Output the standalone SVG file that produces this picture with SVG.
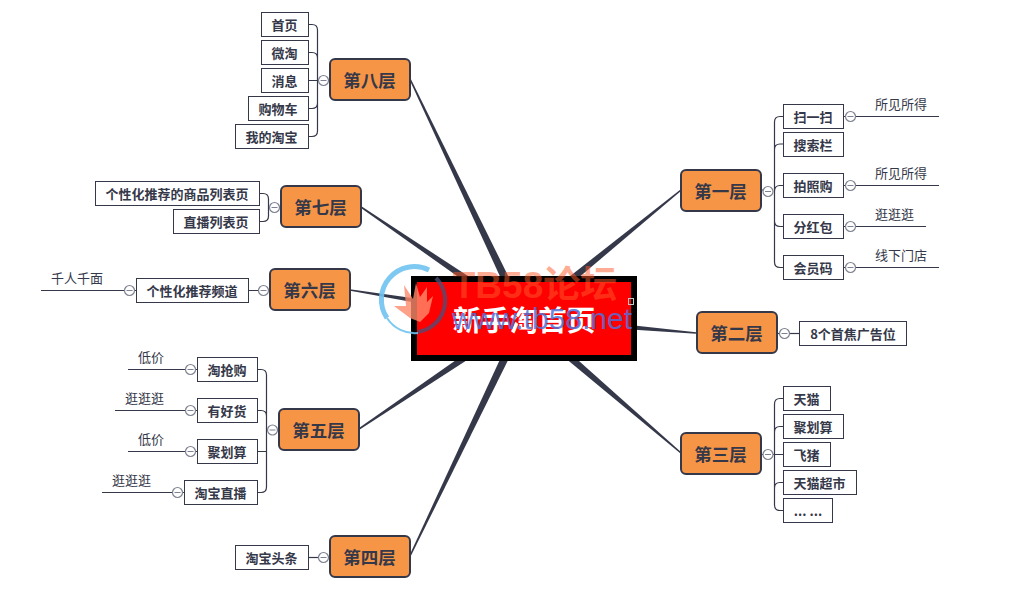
<svg xmlns="http://www.w3.org/2000/svg" xmlns:xlink="http://www.w3.org/1999/xlink" width="1015" height="602" viewBox="0 0 1015 602">
<style>
text{font-family:"Noto Sans CJK SC","Liberation Sans",sans-serif;text-anchor:middle;fill:#353849}
.l1 rect{fill:#F79546;stroke:#353849;stroke-width:2}
.l1 text{font-size:17.500px;font-weight:700}
.b rect{fill:#fff;stroke:#353849;stroke-width:1}
.b text{font-size:13px;font-weight:700}
.leaf{font-size:13px;font-weight:400;text-anchor:start}
.w{fill:none;stroke:#353849;stroke-width:1.2}
.t{fill:#353849}
.c circle{fill:#fff;stroke:#7e8290;stroke-width:1.2}
.c line{stroke:#7e8290;stroke-width:1}
</style>
<defs>
<g id="m" class="c"><circle r="5"/><line x1="-3" x2="3" y1="0" y2="0"/></g>
</defs>
<rect width="1015" height="602" fill="#fff"/>
<g id="connectors">
<g id="main-branches">
<polygon class="t" points="526.800,321.500 681.500,190.600 680.500,189.400 521.200,314.500"/>
<polygon class="t" points="523.600,322.500 695.900,333.800 696.100,332.200 524.400,313.500"/>
<polygon class="t" points="521.100,321.400 680.500,453.600 681.500,452.400 526.900,314.600"/>
<polygon class="t" points="528,319.900 410.700,556.300 409.300,555.700 520,316.100"/>
<polygon class="t" points="526.500,321.700 359.400,429.700 358.600,428.300 521.500,314.300"/>
<polygon class="t" points="524.700,322.400 350.100,290.800 349.900,289.200 523.300,313.600"/>
<polygon class="t" points="526.500,314.300 361.400,206.300 360.600,207.700 521.500,321.700"/>
<polygon class="t" points="528,316.100 410.700,78.700 409.300,79.300 520,319.900"/>
</g>
<path class="w" d="M761 190H768M774.500 191.500V122Q774.500 116.500 780 116.500H783M774.500 150V149.500Q774.500 144 780 144H783M774.500 191.500Q774.500 185.500 780 185.500H783M774.500 191.500V262Q774.500 267.500 780 267.500H783M774.500 221Q774.500 226.500 780 226.500H783"/>
<path class="w" d="M844 116.500H939M844 185.500H939M844 226.500H926M844 267.500H939"/>
<path class="w" d="M777 333.500H799"/>
<path class="w" d="M761 454.500H783M774.500 454.500V404Q774.500 398.500 780 398.500H783M774.500 432Q774.500 426.500 780 426.500H783M774.500 488Q774.500 482.500 780 482.500H783M774.500 454.500V505Q774.500 510.500 780 510.500H783"/>
<path class="w" d="M308.500 557.500H330"/>
<path class="w" d="M279 430H266.500M257.500 369.500H261Q266.500 369.500 266.500 375V487Q266.500 492.500 261 492.500H257.500M257.500 410.500H261Q266.500 410.500 266.500 416M257.500 451.500H266.500"/>
<path class="w" d="M197.500 369.500H128M197.500 410.500H115M197.500 451.500H128M184.500 492.500H102"/>
<path class="w" d="M270 290.500H248.500M136.500 290.500H41"/>
<path class="w" d="M281 207.500H268.500M259.500 193.500H263Q268.500 193.500 268.500 199V216Q268.500 221.500 263 221.500H259.500"/>
<path class="w" d="M330 80.500H308.500M308.500 24.500H312Q317.500 24.500 317.500 30V131Q317.500 136.500 312 136.500H308.500M308.500 52.500H312Q317.500 52.500 317.500 58M308.500 108.500H312Q317.500 108.500 317.500 103"/>
</g>
<g id="center">
<rect x="414" y="279" width="220" height="79" fill="#f00" stroke="#000" stroke-width="6"/>
<text x="524" y="331" font-size="28.500" font-weight="700" style="fill:#fff">新手淘首页</text>
</g>
<g id="n1" class="l1"><rect x="681" y="170" width="80" height="41" rx="5"/><text x="720.500" y="197.500">第一层</text></g>
<g id="n2" class="l1"><rect x="697" y="312" width="80" height="41" rx="5"/><text x="736.500" y="339.500">第二层</text></g>
<g id="n3" class="l1"><rect x="681" y="433" width="80" height="41" rx="5"/><text x="720.500" y="460.500">第三层</text></g>
<g id="n4" class="l1"><rect x="330" y="536" width="80" height="41" rx="5"/><text x="369.500" y="563.500">第四层</text></g>
<g id="n5" class="l1"><rect x="279" y="409" width="80" height="41" rx="5"/><text x="318.500" y="436.500">第五层</text></g>
<g id="n6" class="l1"><rect x="270" y="269" width="80" height="41" rx="5"/><text x="309.500" y="296.500">第六层</text></g>
<g id="n7" class="l1"><rect x="281" y="186" width="80" height="41" rx="5"/><text x="320.500" y="213.500">第七层</text></g>
<g id="n8" class="l1"><rect x="330" y="59" width="80" height="41" rx="5"/><text x="369.500" y="86.500">第八层</text></g>
<g id="n1-children" class="b">
<rect x="783.500" y="104.500" width="60" height="24"/><text x="813" y="121.500">扫一扫</text>
<rect x="783.500" y="132.500" width="60" height="24"/><text x="813" y="149.500">搜索栏</text>
<rect x="783.500" y="173.500" width="60" height="24"/><text x="813" y="190.500">拍照购</text>
<rect x="783.500" y="214.500" width="60" height="24"/><text x="813" y="231.500">分红包</text>
<rect x="783.500" y="255.500" width="60" height="24"/><text x="813" y="272.500">会员码</text>
</g>
<g id="n2-children" class="b"><rect x="799.500" y="321.500" width="107" height="24"/><text x="853" y="338.500">8个首焦广告位</text></g>
<g id="n3-children" class="b">
<rect x="783.500" y="386.500" width="47" height="24"/><text x="806.500" y="403.500">天猫</text>
<rect x="783.500" y="414.500" width="60" height="24"/><text x="813" y="431.500">聚划算</text>
<rect x="783.500" y="442.500" width="47" height="24"/><text x="806.500" y="459.500">飞猪</text>
<rect x="783.500" y="470.500" width="73" height="24"/><text x="819.500" y="487.500">天猫超市</text>
<rect x="783.500" y="498.500" width="49" height="24"/><text x="808" y="515.500">... ...</text>
</g>
<g id="n4-children" class="b"><rect x="235.500" y="545.500" width="73" height="24"/><text x="271.500" y="562.500">淘宝头条</text></g>
<g id="n5-children" class="b">
<rect x="197.500" y="357.500" width="60" height="24"/><text x="227" y="374.500">淘抢购</text>
<rect x="197.500" y="398.500" width="60" height="24"/><text x="227" y="415.500">有好货</text>
<rect x="197.500" y="439.500" width="60" height="24"/><text x="227" y="456.500">聚划算</text>
<rect x="184.500" y="480.500" width="73" height="24"/><text x="220.500" y="497.500">淘宝直播</text>
</g>
<g id="n6-children" class="b"><rect x="136.500" y="278.500" width="112" height="24"/><text x="192" y="295.500">个性化推荐频道</text></g>
<g id="n7-children" class="b">
<rect x="95.500" y="181.500" width="164" height="24"/><text x="177" y="198.500">个性化推荐的商品列表页</text>
<rect x="173.500" y="209.500" width="86" height="24"/><text x="216" y="226.500">直播列表页</text>
</g>
<g id="n8-children" class="b">
<rect x="261.500" y="12.500" width="47" height="24"/><text x="284.500" y="29.500">首页</text>
<rect x="261.500" y="40.500" width="47" height="24"/><text x="284.500" y="57.500">微淘</text>
<rect x="261.500" y="68.500" width="47" height="24"/><text x="284.500" y="85.500">消息</text>
<rect x="248.500" y="96.500" width="60" height="24"/><text x="278" y="113.500">购物车</text>
<rect x="235.500" y="124.500" width="73" height="24"/><text x="271.500" y="141.500">我的淘宝</text>
</g>
<g id="leaves">
<text class="leaf" x="875" y="108.500">所见所得</text>
<text class="leaf" x="875" y="177.500">所见所得</text>
<text class="leaf" x="875" y="218.500">逛逛逛</text>
<text class="leaf" x="875" y="259.500">线下门店</text>
<text class="leaf" x="138" y="361.500">低价</text>
<text class="leaf" x="125" y="402.500">逛逛逛</text>
<text class="leaf" x="138" y="443.500">低价</text>
<text class="leaf" x="112" y="484.500">逛逛逛</text>
<text class="leaf" x="51" y="282.500">千人千面</text>
</g>
<g id="toggles">
<use xlink:href="#m" href="#m" x="768" y="191.500"/>
<use xlink:href="#m" href="#m" x="850.500" y="116.500"/>
<use xlink:href="#m" href="#m" x="850.500" y="185.500"/>
<use xlink:href="#m" href="#m" x="850.500" y="226.500"/>
<use xlink:href="#m" href="#m" x="850.500" y="267.500"/>
<use xlink:href="#m" href="#m" x="784.500" y="333.500"/>
<use xlink:href="#m" href="#m" x="768" y="454.500"/>
<use xlink:href="#m" href="#m" x="323.500" y="557.500"/>
<use xlink:href="#m" href="#m" x="272.500" y="430"/>
<use xlink:href="#m" href="#m" x="190.500" y="369.500"/>
<use xlink:href="#m" href="#m" x="190.500" y="410.500"/>
<use xlink:href="#m" href="#m" x="190.500" y="451.500"/>
<use xlink:href="#m" href="#m" x="177.500" y="492.500"/>
<use xlink:href="#m" href="#m" x="263.500" y="290.500"/>
<use xlink:href="#m" href="#m" x="129.500" y="290.500"/>
<use xlink:href="#m" href="#m" x="274.500" y="207.500"/>
<use xlink:href="#m" href="#m" x="323.500" y="80.500"/>
</g>
<g id="watermark">
<path d="M429 270A33 33 0 0 0 387 318" fill="none" stroke="#6fc3f0" stroke-width="5" opacity=".9"/>
<path d="M387 318A33 33 0 0 0 418 333" fill="none" stroke="#6fc3f0" stroke-width="2" opacity=".9"/>
<path d="M436 278A32 32 0 0 1 418 332" fill="none" stroke="#4a4f7a" stroke-width="4" opacity=".75"/>
<path d="M404 285L413 299L416 283L420 297L427 287L427 302L433 296L429 313L420 322L410 318L394 306L406 306Z" fill="#ff8a6a" opacity=".8"/>
<text x="535" y="298" font-size="37" font-weight="700" style="font-family:'Liberation Sans','Noto Sans CJK SC',sans-serif;fill:#ff5a2a;fill-opacity:.5">TB58论坛</text>
<text x="542" y="329" font-size="30" font-weight="400" style="font-family:'Liberation Sans',sans-serif;fill:#5070d8;fill-opacity:.85">www.tb58.net</text>
<rect x="628.500" y="298.500" width="5" height="6" fill="none" stroke="#c8c8c8" stroke-width="1"/>
</g>
</svg>
